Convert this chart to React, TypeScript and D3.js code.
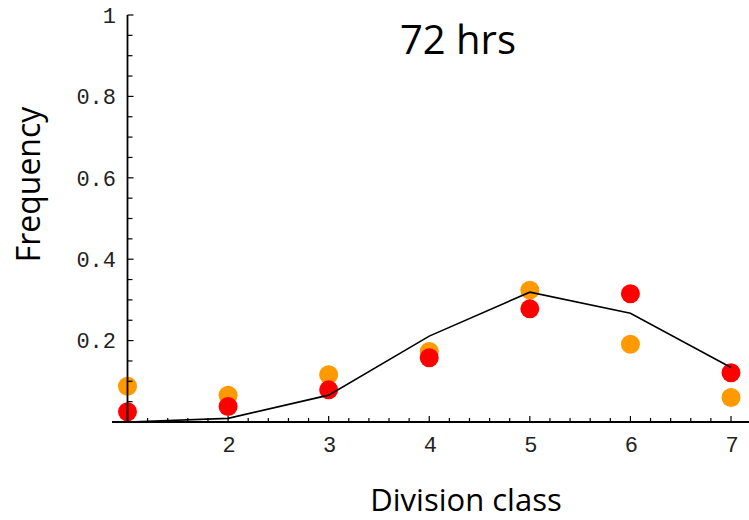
import React from "react";
import * as d3 from "d3";

const classes = [1, 2, 3, 4, 5, 6, 7];
const orangeValues = [0.088, 0.066, 0.116, 0.173, 0.324, 0.191, 0.06];
const redValues = [0.025, 0.038, 0.079, 0.158, 0.278, 0.315, 0.121];
const modelValues = [0.0, 0.009, 0.066, 0.211, 0.319, 0.267, 0.134];
const yTickLabels = ["0.2", "0.4", "0.6", "0.8", "1"];
const xTickLabels = ["2", "3", "4", "5", "6", "7"];
const title = "72 hrs";
const xLabel = "Division class";
const yLabel = "Frequency";

const W = 749;
const H = 520;

export default function App() {
  const x = d3.scaleLinear().domain([1, 7]).range([127.5, 731]);
  const y = d3.scaleLinear().domain([0, 1]).range([422, 15]);
  const xMinor = d3.range(0.8, 7.21, 0.2).map((v) => +v.toFixed(2)).filter((v) => x(v) >= 112 && x(v) <= 749);
  const yMinor = d3.range(0.05, 1.0001, 0.05).map((v) => +v.toFixed(2));
  const line = d3
    .line<number>()
    .x((_, i) => x(classes[i]))
    .y((d) => y(d));
  const mono = "'Liberation Mono', 'Courier New', monospace";
  const sans = "'Open Sans', 'Noto Sans', sans-serif";
  return (
    <svg width={W} height={H} style={{ position: "absolute", left: 0, top: 0, background: "#fff" }}>
      {/* points */}
      {orangeValues.map((v, i) => (
        <circle key={"o" + i} cx={x(classes[i])} cy={y(v)} r={9.5} fill="#FF9900" />
      ))}
      {redValues.map((v, i) => (
        <circle key={"r" + i} cx={x(classes[i])} cy={y(v)} r={9.5} fill="#FF0000" />
      ))}
      <path d={line(modelValues) || ""} fill="none" stroke="#000" strokeWidth={1.6} />
      {/* x axis */}
      <line x1={112} x2={749} y1={y(0)} y2={y(0)} stroke="#000" strokeWidth={1.8} />
      {xMinor.map((v, i) => {
        const isMajor = Math.abs(v - Math.round(v)) < 1e-6;
        return (
          <line key={"xt" + i} x1={x(v)} x2={x(v)} y1={y(0)} y2={y(0) - (isMajor ? 6 : 4)} stroke="#000" strokeWidth={1.2} />
        );
      })}
      {xTickLabels.map((t) => (
        <text key={"xl" + t} x={x(+t) + 1} y={452} textAnchor="middle" fontFamily={mono} fontSize={22} fill="#222">
          {t}
        </text>
      ))}
      {/* y axis */}
      <line x1={x(1)} x2={x(1)} y1={y(1)} y2={y(0)} stroke="#000" strokeWidth={1.8} />
      {yMinor.map((v, i) => {
        const isMajor = Math.abs(v * 5 - Math.round(v * 5)) < 1e-6;
        return (
          <line key={"yt" + i} x1={x(1)} x2={x(1) + (isMajor ? 6 : 5)} y1={y(v)} y2={y(v)} stroke="#000" strokeWidth={1.2} />
        );
      })}
      {yTickLabels.map((t) => (
        <text key={"yl" + t} x={116} y={y(+t)} dy="0.35em" textAnchor="end" fontFamily={mono} fontSize={22} fill="#222">
          {t}
        </text>
      ))}
      {/* titles */}
      <text x={458} y={54} textAnchor="middle" fontFamily={sans} fontSize={40} fill="#000">
        {title}
      </text>
      <text x={466} y={511} textAnchor="middle" fontFamily={sans} fontSize={31} fill="#000">
        {xLabel}
      </text>
      <text transform="translate(40,184.5) rotate(-90)" textAnchor="middle" fontFamily={sans} fontSize={32} fill="#000">
        {yLabel}
      </text>
    </svg>
  );
}
